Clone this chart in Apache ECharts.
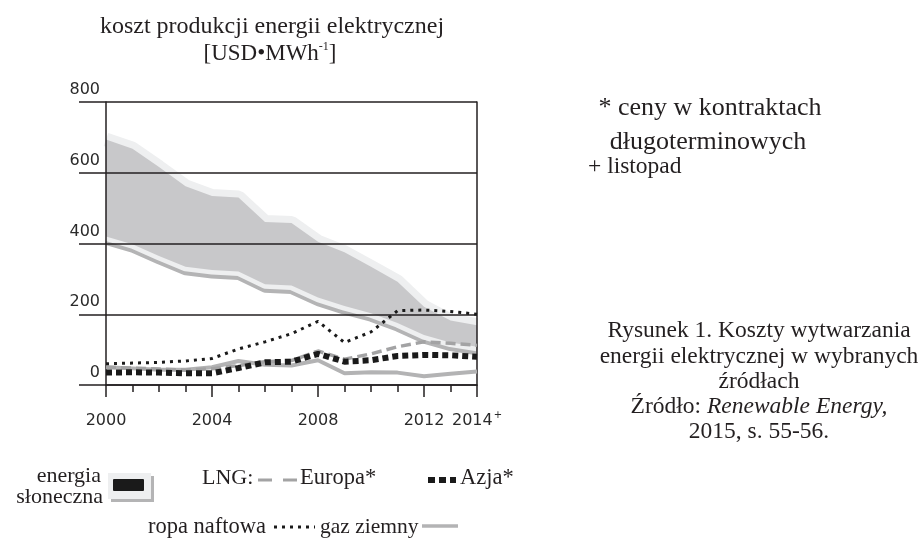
<!DOCTYPE html>
<html>
<head>
<meta charset="utf-8">
<script src="https://cdn.jsdelivr.net/npm/echarts@6/dist/echarts.min.js"></script>
<style>
html,body{margin:0;padding:0;background:#fff;}
#chart{width:923px;height:539px;}
</style>
</head>
<body>
<div id="chart"></div>
<script>
const years = ['2000','2001','2002','2003','2004','2005','2006','2007','2008','2009','2010','2011','2012','2013','2014'];
const labeledYears = ['2000','2004','2008','2012','2014'];
const solarUpper = [694,668,616,562,534,530,461,458,405,375,334,292,221,182,169];
const solarLower = [420,398,365,334,325,321,285,281,247,223,203,175,141,120,108];
const oil = [60,62,64,68,75,102,122,145,180,120,150,210,212,208,200];
const gas = [50,47,43,43,50,68,57,55,70,33,36,35,25,32,38];
const lngEurope = [50,48,45,42,46,55,66,69,96,73,88,108,122,118,112];
const lngAsia = [35,36,35,33,33,48,64,66,88,66,70,82,85,84,80];
const yMin = 0, yMax = 800, yStep = 200;

const solarDiff = solarUpper.map((v, i) => v - solarLower[i]);
const serif = "'Liberation Serif', 'Times New Roman', serif";
const ink = '#231f20';

const chart = echarts.init(document.getElementById('chart'), null, {renderer: 'canvas'});

const option = {
  animation: false,
  backgroundColor: '#ffffff',
  grid: {left: 106, right: 446, top: 102, bottom: 154, containLabel: false},
  xAxis: [
    {
      type: 'category', data: years, boundaryGap: false, position: 'bottom', z: 3,
      axisLine: {show: true, lineStyle: {color: ink, width: 1.5}},
      axisTick: {show: true, interval: 0, length: 7, lineStyle: {color: ink, width: 1.5}},
      axisLabel: {
        interval: (i, v) => labeledYears.indexOf(v) >= 0,
        margin: 25, color: '#2a2a2a', fontFamily: 'DejaVu Sans', fontSize: 16,
        formatter: v => v === '2014' ? '{a|2014}{s|+}' : '{a|' + v + '}',
        rich: {a: {fontFamily: 'DejaVu Sans', fontSize: 16, color: '#2a2a2a', lineHeight: 22},
               s: {fontFamily: 'DejaVu Sans', fontSize: 10, color: '#2a2a2a', verticalAlign: 'top', lineHeight: 12, padding: [0, 0, 0, 1]}}
      },
      splitLine: {show: false}
    },
    {
      type: 'category', data: years, boundaryGap: false, position: 'bottom', z: 3,
      axisLine: {show: false},
      axisTick: {show: true, interval: (i, v) => labeledYears.indexOf(v) >= 0, length: 12, lineStyle: {color: ink, width: 1.5}},
      axisLabel: {show: false},
      splitLine: {show: false}
    }
  ],
  yAxis: [
    {
      type: 'value', min: yMin, max: yMax, interval: yStep, position: 'left', z: 3,
      axisLine: {show: true, lineStyle: {color: ink, width: 1.5}},
      axisTick: {show: true, length: 27, lineStyle: {color: ink, width: 1.5}},
      axisLabel: {margin: 6, color: '#2a2a2a', fontFamily: 'DejaVu Sans', fontSize: 16,
                  verticalAlign: 'bottom', padding: [0, 0, 4, 0]},
      splitLine: {show: true, lineStyle: {color: ink, width: 1.5}}
    },
    {
      type: 'value', min: yMin, max: yMax, interval: yStep, position: 'right', z: 3,
      axisLine: {show: true, lineStyle: {color: ink, width: 1.5}},
      axisTick: {show: false}, axisLabel: {show: false}, splitLine: {show: false}
    }
  ],
  series: [
    {
      name: 'solarUpperHalo', type: 'line', data: solarUpper, symbol: 'none', silent: true, z: 1,
      lineStyle: {color: '#eeeff0', width: 14, cap: 'butt'}
    },
    {
      name: 'solarLowerEdge', type: 'line', data: solarLower, symbol: 'none', silent: true, z: 1,
      lineStyle: {color: '#eeeff0', width: 9, shadowColor: '#b4b4b5', shadowOffsetY: 4, shadowBlur: 0}
    },
    {
      name: 'solarBase', type: 'line', data: solarLower, stack: 'solar', symbol: 'none', silent: true, z: 2,
      lineStyle: {width: 0, opacity: 0}
    },
    {
      name: 'energia słoneczna', type: 'line', data: solarDiff, stack: 'solar', symbol: 'none', silent: true, z: 2,
      lineStyle: {width: 0, opacity: 0},
      areaStyle: {color: '#c8c8ca', opacity: 1}
    },
    {
      name: 'gaz ziemny', type: 'line', data: gas, symbol: 'none', z: 4,
      lineStyle: {color: '#b3b3b4', width: 4}
    },
    {
      name: 'LNG Europa*', type: 'line', data: lngEurope, symbol: 'none', z: 4,
      lineStyle: {color: '#a3a3a4', width: 3.5, type: [10, 5]}
    },
    {
      name: 'LNG Azja*', type: 'line', data: lngAsia, symbol: 'none', z: 5,
      lineStyle: {color: '#1a1a1a', width: 6, type: [6, 4]}
    },
    {
      name: 'ropa naftowa', type: 'line', data: oil, symbol: 'none', z: 6,
      lineStyle: {color: '#1a1a1a', width: 3, type: [3, 5]}
    }
  ],
  graphic: [
    {type: 'text', x: 272, y: 27, style: {text: 'koszt produkcji energii elektrycznej', font: '24px ' + serif, fill: ink, align: 'center', verticalAlign: 'middle'}},
    {type: 'text', x: 270, y: 54, style: {
      text: '{n|[USD•MWh}{s|-1}{n|]}', align: 'center', verticalAlign: 'middle',
      rich: {n: {font: '23px ' + serif, fill: ink, lineHeight: 26},
             s: {font: '12px ' + serif, fill: ink, verticalAlign: 'top', lineHeight: 26}}
    }},
    {type: 'text', x: 710, y: 108, style: {text: '* ceny w kontraktach', font: '26px ' + serif, fill: ink, align: 'center', verticalAlign: 'middle'}},
    {type: 'text', x: 708, y: 142, style: {text: 'długoterminowych', font: '26px ' + serif, fill: ink, align: 'center', verticalAlign: 'middle'}},
    {type: 'text', x: 588, y: 167, style: {text: '+ listopad', font: '23.5px ' + serif, fill: ink, align: 'left', verticalAlign: 'middle'}},
    {type: 'text', x: 759, y: 331, style: {text: 'Rysunek 1. Koszty wytwarzania', font: '23.5px ' + serif, fill: ink, align: 'center', verticalAlign: 'middle'}},
    {type: 'text', x: 759, y: 357, style: {text: 'energii elektrycznej w wybranych', font: '23.5px ' + serif, fill: ink, align: 'center', verticalAlign: 'middle'}},
    {type: 'text', x: 759, y: 382, style: {text: 'źródłach', font: '23.5px ' + serif, fill: ink, align: 'center', verticalAlign: 'middle'}},
    {type: 'text', x: 759, y: 407, style: {
      text: '{n|Źródło: }{i|Renewable Energy,}', align: 'center', verticalAlign: 'middle',
      rich: {n: {font: '23.5px ' + serif, fill: ink}, i: {font: 'italic 23.5px ' + serif, fill: ink}}
    }},
    {type: 'text', x: 759, y: 432, style: {text: '2015, s. 55-56.', font: '23.5px ' + serif, fill: ink, align: 'center', verticalAlign: 'middle'}},

    {type: 'text', x: 101, y: 476, style: {text: 'energia', font: '22px ' + serif, fill: ink, align: 'right', verticalAlign: 'middle'}},
    {type: 'text', x: 103, y: 497, style: {text: 'słoneczna', font: '22px ' + serif, fill: ink, align: 'right', verticalAlign: 'middle'}},
    {type: 'rect', shape: {x: 111, y: 476, width: 43, height: 26}, style: {fill: '#b4b4b5'}},
    {type: 'rect', shape: {x: 108, y: 473, width: 43, height: 26}, style: {fill: '#eeeff0'}},
    {type: 'rect', shape: {x: 113, y: 479, width: 31, height: 12, r: 1}, style: {fill: '#1a1a1a'}},

    {type: 'text', x: 202, y: 478, style: {text: 'LNG:', font: '22px ' + serif, fill: ink, align: 'left', verticalAlign: 'middle'}},
    {type: 'line', shape: {x1: 258, y1: 480, x2: 298, y2: 480}, style: {stroke: '#a3a3a4', lineWidth: 3, lineDash: [14, 11]}},
    {type: 'text', x: 300, y: 478, style: {text: 'Europa*', font: '22.5px ' + serif, fill: ink, align: 'left', verticalAlign: 'middle'}},
    {type: 'line', shape: {x1: 428, y1: 480, x2: 456, y2: 480}, style: {stroke: '#1a1a1a', lineWidth: 6, lineDash: [7, 4]}},
    {type: 'text', x: 460, y: 478, style: {text: 'Azja*', font: '22.5px ' + serif, fill: ink, align: 'left', verticalAlign: 'middle'}},

    {type: 'text', x: 148, y: 527, style: {text: 'ropa naftowa', font: '22.5px ' + serif, fill: ink, align: 'left', verticalAlign: 'middle'}},
    {type: 'line', shape: {x1: 274, y1: 527, x2: 315, y2: 527}, style: {stroke: '#1a1a1a', lineWidth: 3, lineDash: [3, 5]}},
    {type: 'text', x: 320, y: 527, style: {text: 'gaz ziemny', font: '21.5px ' + serif, fill: ink, align: 'left', verticalAlign: 'middle'}},
    {type: 'line', shape: {x1: 422, y1: 526, x2: 458, y2: 526}, style: {stroke: '#b3b3b4', lineWidth: 3.5}}
  ]
};
chart.setOption(option);
</script>
</body>
</html>
